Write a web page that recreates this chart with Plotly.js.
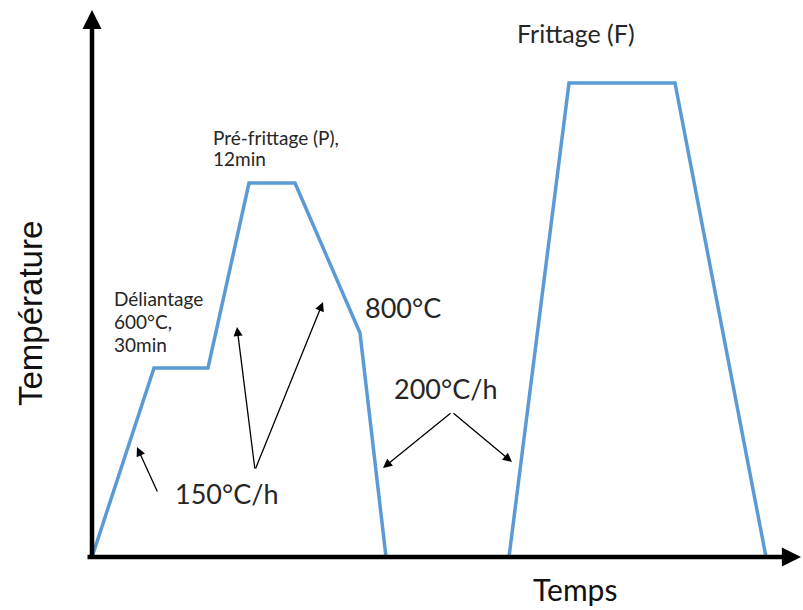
<!DOCTYPE html>
<html>
<head>
<meta charset="utf-8">
<script src="https://cdn.plot.ly/plotly-3.0.1.min.js"></script>
<style>html,body{margin:0;padding:0;background:#fff;}</style>
</head>
<body>
<div id="chart" style="width:803px;height:610px;"></div>
<script>
// Schematic heat-treatment cycle (arbitrary units: time, temperature)
const cycle1Time = [0, 62, 116, 157, 203, 268, 294];
const cycle1Temp = [0, 189, 189, 374, 374, 224, 0];
const cycle2Time = [417, 477, 583, 674];
const cycle2Temp = [0, 474, 474, 0];

const X_MAX = 711, Y_MAX = 557;
const lineColor = '#5b9bd5';
const traces = [
  {x: cycle1Time, y: cycle1Temp, mode: 'lines', line: {color: lineColor, width: 3.5}, hoverinfo: 'skip'},
  {x: cycle2Time, y: cycle2Temp, mode: 'lines', line: {color: lineColor, width: 3.5}, hoverinfo: 'skip'}
];

const calibri = 'Lato, "Open Sans", sans-serif';
function txt(text, x, y, size, extra) {
  return Object.assign({xref: 'paper', yref: 'paper', x: x / X_MAX, y: y / Y_MAX, text: text, showarrow: false,
    xanchor: 'left', yanchor: 'middle', borderpad: 0, font: {family: calibri, size: size, color: '#262626'}}, extra || {});
}
function arr(tx, ty, hx, hy, w, size) {
  return {xref: 'x', yref: 'y', axref: 'x', ayref: 'y', x: hx, y: hy, ax: tx, ay: ty, text: '',
    showarrow: true, arrowhead: 2, arrowsize: size, arrowwidth: w, arrowcolor: '#000', standoff: 0, startstandoff: 0};
}

const annotations = [
  // axes arrows
  arr(0, -3, 0, 547, 4.5, 0.85),
  arr(-6, 0, 709, 0, 4.5, 0.85),
  // labels
  txt('Pré-frittage (P),', 120, 420, 19),
  txt('12min', 120, 399, 19),
  txt('Déliantage', 21, 259, 19),
  txt('600°C,', 21, 236, 19),
  txt('30min', 21, 213, 19),
  txt('800°C', 272, 250, 27),
  txt('200°C/h', 301, 169, 27),
  txt('150°C/h', 82, 64, 27),
  txt('Frittage (F)', 424, 524, 25),
  txt('Temps', 440, -32, 30, {font: {family: calibri, size: 30, color: '#111'}}),
  txt('Température', -62, 243, 33, {xanchor: 'center', textangle: -90, font: {family: '"Liberation Sans", Arial, sans-serif', size: 33, color: '#111'}}),
  // rate arrows
  arr(66, 64, 45, 110, 1.3, 1.4),
  arr(163, 87, 145, 230, 1.3, 1.4),
  arr(163, 87, 231, 255, 1.3, 1.4),
  arr(360, 145, 291, 89, 1.3, 1.4),
  arr(360, 145, 420, 95, 1.3, 1.4)
];

const layout = {
  width: 803, height: 610,
  margin: {l: 92, r: 0, t: 0, b: 53},
  paper_bgcolor: '#fff', plot_bgcolor: '#fff',
  showlegend: false,
  xaxis: {range: [0, X_MAX], visible: false, fixedrange: true},
  yaxis: {range: [0, Y_MAX], visible: false, fixedrange: true},
  annotations: annotations
};

Plotly.newPlot('chart', traces, layout, {displayModeBar: false, staticPlot: true});
</script>
</body>
</html>
